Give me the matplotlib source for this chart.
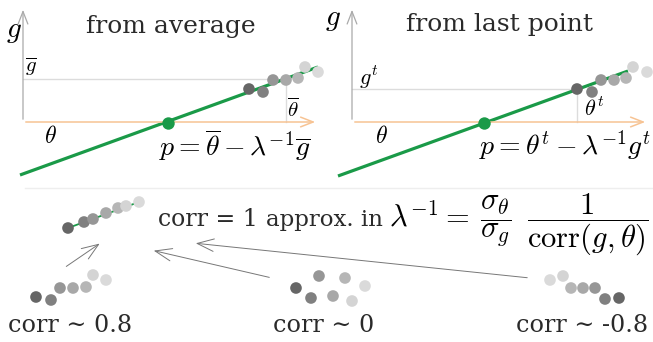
import matplotlib
matplotlib.use('Agg')
import matplotlib.pyplot as plt

plt.rcParams['mathtext.fontset'] = 'cm'
SERIF = ['DejaVu Serif', 'DejaVu Sans']

# ─── Datos (coordenadas en pixeles de la figura) ────────────────────────────
GRAYS = ["#666666", "#808080", "#969696", "#a8a8a8", "#b6b6b6", "#d4d4d4", "#dadada"]

# nube de puntos del panel "from average"
avg_x = [249, 263, 273, 286, 298, 305, 318]
avg_y = [89, 92, 80, 80, 78, 67, 72]
# mismo conjunto desplazado para "from last point"
last_x = [577, 592, 601, 614, 626, 633, 647]
last_y = [89, 92, 80, 80, 78, 67, 72]

# lineas verdes (x0, x1), (y0, y1)
avg_line_x, avg_line_y = [20, 318], [175, 67]
last_line_x, last_line_y = [338, 628], [176, 71]
avg_p = (168, 123)
last_p = (484, 123)

# ejemplos de correlacion
c1_x = [68, 84, 93, 106, 118, 126, 139]
c1_y = [228, 222, 219, 213, 208, 206, 202]
c08_x = [36, 51, 60, 73, 86, 93, 106]
c08_y = [297, 300, 288, 288, 287, 275, 280]
c0_x = [296, 311, 319, 333, 345, 352, 365]
c0_y = [288, 298, 276, 296, 278, 301, 286]
cm08_x = [619, 605, 595, 583, 571, 563, 550]
cm08_y = [298, 299, 288, 288, 288, 276, 280]

fig = plt.figure(figsize=(6.53, 3.42), dpi=100, facecolor='white')
ax = fig.add_axes([0, 0, 1, 1])
ax.set_xlim(0, 653)
ax.set_ylim(342, 0)
ax.axis('off')

AXC = "#aaaaaa"
ORANGE = "#f7c393"
GREEN = "#1a9a48"
GUIDE = "#dcdcdc"
MS = 70
TXT = '#2a2a2a'


def panel(x0, x1, pts_x, pts_y, lx, ly, p, px, py):
    # ejes
    ax.annotate("", xy=(x0, 7), xytext=(x0, 122),
                arrowprops=dict(arrowstyle='->,head_length=0.9,head_width=0.35',
                                color=AXC, lw=0.9))
    ax.annotate("", xy=(x1, 122), xytext=(x0, 122),
                arrowprops=dict(arrowstyle='->,head_length=0.9,head_width=0.35',
                                color=ORANGE, lw=1.1))
    # guias
    ax.plot([x0, px], [py, py], color=GUIDE, lw=1, zorder=1)
    ax.plot([px, px], [py, 122], color=GUIDE, lw=1, zorder=1)
    ax.plot(lx, ly, color=GREEN, lw=2.3, zorder=2, solid_capstyle='butt')
    ax.scatter([p[0]], [p[1]], s=80, color=GREEN, zorder=4, linewidths=0)
    ax.scatter(pts_x, pts_y, s=MS, c=GRAYS, zorder=3, linewidths=0)


panel(23, 318, avg_x, avg_y, avg_line_x, avg_line_y, avg_p, 286, 79)
panel(352, 648, last_x, last_y, last_line_x, last_line_y, last_p, 577, 89)

# textos paneles
ax.text(171, 27, "from average", fontsize=18, family=SERIF, color=TXT,
        ha='center', va='center')
ax.text(500, 25, "from last point", fontsize=18, family=SERIF, color=TXT,
        ha='center', va='center')
ax.text(14, 31, r"$g$", fontsize=21, ha='center', va='center')
ax.text(333, 19, r"$g$", fontsize=21, ha='center', va='center')
ax.text(31, 67, r"$\overline{g}$", fontsize=15, ha='center', va='center')
ax.text(293, 109, r"$\overline{\theta}$", fontsize=15, ha='center', va='center')
ax.text(50, 136, r"$\theta$", fontsize=17, ha='center', va='center')
ax.text(369, 77, r"$g^t$", fontsize=16, ha='center', va='center')
ax.text(594, 108, r"$\theta^t$", fontsize=16, ha='center', va='center')
ax.text(381, 136, r"$\theta$", fontsize=17, ha='center', va='center')
ax.text(235, 145, r"$p = \overline{\theta} - \lambda^{-1}\overline{g}$",
        fontsize=20, ha='center', va='center')
ax.text(565, 145, r"$p = \theta^t - \lambda^{-1} g^t$",
        fontsize=20, ha='center', va='center')

# separador
ax.plot([25, 653], [188, 188], color="#eeeeee", lw=1)

# corr = 1
ax.plot([c1_x[0], c1_x[-1]], [c1_y[0], c1_y[-1]], color=GREEN, lw=1.3, zorder=2)
ax.scatter(c1_x, c1_y, s=MS, c=GRAYS, zorder=3, linewidths=0)
BASE = 226
ax.text(158, BASE, "corr = 1", fontsize=17, family=SERIF, color=TXT,
        ha='left', va='baseline')
ax.text(266, BASE, "approx. in", fontsize=16.5, family=SERIF, color=TXT,
        ha='left', va='baseline')
ax.text(389, BASE, r"$\lambda^{-1} =$", fontsize=22, ha='left', va='baseline')
ax.text(496, BASE, r"$\dfrac{\sigma_\theta}{\sigma_g}$", fontsize=22,
        ha='center', va='baseline')
ax.text(588, BASE, r"$\dfrac{1}{\mathrm{corr}(g,\theta)}$", fontsize=22,
        ha='center', va='baseline')

# ejemplos
ax.scatter(c08_x, c08_y, s=MS, c=GRAYS, linewidths=0)
ax.scatter(c0_x, c0_y, s=MS, c=GRAYS, linewidths=0)
ax.scatter(cm08_x, cm08_y, s=MS, c=GRAYS, linewidths=0)
for x, lab in [(70, "corr \u223c 0.8"), (324, "corr \u223c 0"), (582, "corr \u223c -0.8")]:
    ax.text(x, 326, lab, fontsize=17.2, family=SERIF, color=TXT,
            ha='center', va='center')

# flechas
ARR = dict(arrowstyle='->,head_length=1.2,head_width=0.45', color="#777777", lw=0.7)
ax.annotate("", xy=(102, 242), xytext=(64, 268), arrowprops=ARR)
ax.annotate("", xy=(151, 250), xytext=(272, 278), arrowprops=ARR)
ax.annotate("", xy=(193, 243), xytext=(530, 278), arrowprops=ARR)

fig.savefig("out.png", dpi=100, facecolor='white')
